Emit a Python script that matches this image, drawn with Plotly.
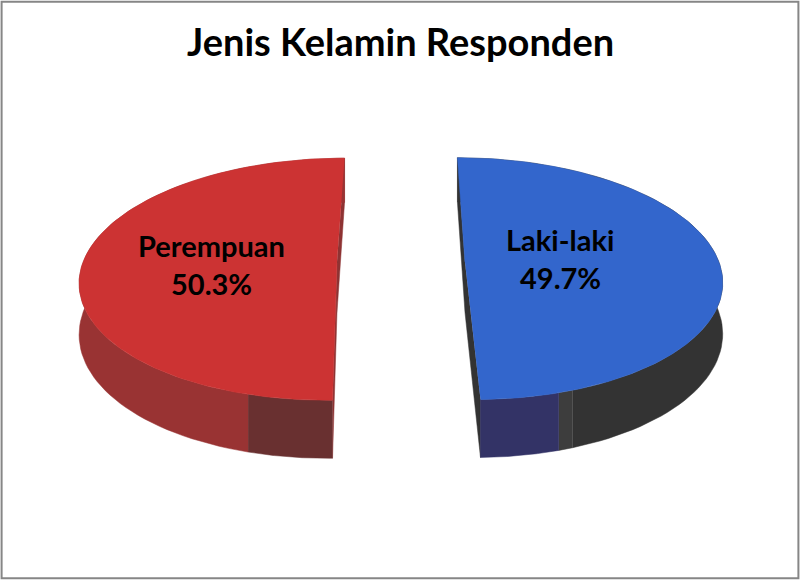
import numpy as np
import plotly.graph_objects as go

title = "Jenis Kelamin Responden"
categories = ["Laki-laki", "Perempuan"]
values = [49.7, 50.3]
top_colors = ["#3366CC", "#CC3333"]
cut_colors = ["#333333", "#8E3333"]
# wall bands per slice: (start fraction along the slice sweep, end fraction, colour)
wall_bands = [
    [(0.00, 0.8955, "#333333"), (0.8955, 0.912, "#3D3D3D"), (0.912, 1.00, "#333366")],
    [(0.00, 0.093, "#693030"), (0.093, 1.00, "#993333")],
]
label_pos = [(560, 239, 277), (211, 245, 283)]

# camera
X0, HORIZON, H, D, F, DH = 401.0, -620.0, 6558.0, 7.43, 1888.0, 373.0
EXPLODE = 0.252


def project(x, z, low=False):
    d = D + z
    return X0 + F * x / d, HORIZON + (H + (DH if low else 0)) / d


fig = go.Figure()


def poly(xs, ys, color):
    fig.add_trace(go.Scatter(x=xs, y=ys, mode="lines", fill="toself", fillcolor=color,
                             line=dict(color=color, width=0.5), hoverinfo="skip",
                             showlegend=False))


total = sum(values)
sweep0 = [0.0, values[0] / total * 2 * np.pi]
for i, v in enumerate(values):
    a0 = sweep0[i]
    a1 = a0 + v / total * 2 * np.pi
    mid = (a0 + a1) / 2
    ex, ez = EXPLODE * np.sin(mid), EXPLODE * np.cos(mid)

    def rim(a):
        return ex + np.sin(a), ez + np.cos(a)

    # cut faces
    for a in (a0, a1):
        x, z = rim(np.array([a]))
        xs = [ex, x[0]]
        zs = [ez, z[0]]
        top = [project(p, q) for p, q in zip(xs, zs)]
        low = [project(p, q, True) for p, q in zip(xs, zs)]
        pts = top + low[::-1]
        poly([p[0] for p in pts], [p[1] for p in pts], cut_colors[i])

    # outer walls
    for f0, f1, col in wall_bands[i]:
        a = np.linspace(a0 + f0 * (a1 - a0), a0 + f1 * (a1 - a0), 80)
        x, z = rim(a)
        tx, ty = project(x, z)
        lx, ly = project(x, z, True)
        poly(np.r_[tx, lx[::-1]], np.r_[ty, ly[::-1]], col)

    # top face
    a = np.linspace(a0, a1, 200)
    x, z = rim(a)
    tx, ty = project(np.r_[ex, x], np.r_[ez, z])
    poly(tx, ty, top_colors[i])

annotations = [dict(x=400, y=41, text=f"<b>{title}</b>", showarrow=False,
                    font=dict(family="Lato", size=38, color="#000000"),
                    xanchor="center", yanchor="middle")]
for name, v, (lx, y1, y2) in zip(categories, values, label_pos):
    annotations.append(dict(x=lx, y=y1, text=f"<b>{name}</b>", showarrow=False,
                            font=dict(family="Lato", size=29, color="#000000"),
                            xanchor="center", yanchor="middle"))
    annotations.append(dict(x=lx, y=y2, text=f"<b>{v:.1f}%</b>", showarrow=False,
                            font=dict(family="Lato", size=29, color="#000000"),
                            xanchor="center", yanchor="middle"))

fig.update_layout(
    width=800, height=580, margin=dict(l=0, r=0, t=0, b=0),
    paper_bgcolor="#FFFFFF", plot_bgcolor="#FFFFFF",
    xaxis=dict(range=[0, 800], visible=False, fixedrange=True),
    yaxis=dict(range=[580, 0], visible=False, fixedrange=True),
    annotations=annotations,
    shapes=[dict(type="rect", xref="paper", yref="paper", x0=0.002, y0=0.003, x1=0.998, y1=0.997,
                 line=dict(color="#868686", width=2))],
)
fig.write_html(
    "out.html",
    config={"displayModeBar": False},
    post_script="document.body.style.margin='0';document.body.style.overflow='hidden';",
)
